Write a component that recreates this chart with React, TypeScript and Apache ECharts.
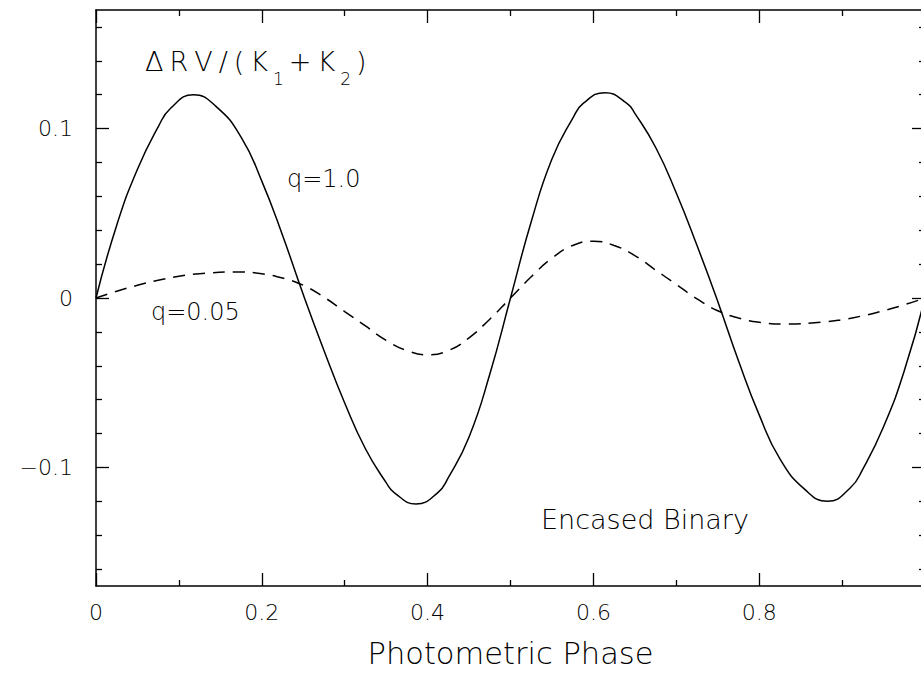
import React, { useEffect, useRef } from "react";
import * as echarts from "echarts";

// q = 1.0 (solid): photometric phase and ΔRV/(K1+K2)
const phaseQ10 = [
  0, 0.025, 0.05, 0.075, 0.09, 0.1175, 0.145, 0.175, 0.2, 0.225,
  0.25, 0.275, 0.3, 0.325, 0.35, 0.36, 0.386, 0.412, 0.425, 0.45,
  0.475, 0.5, 0.525, 0.55, 0.575, 0.588, 0.614, 0.64, 0.65, 0.675,
  0.7, 0.725, 0.75, 0.775, 0.8, 0.825, 0.855, 0.8825, 0.91, 0.925,
  0.95, 0.975, 1.0,
];
const rvQ10 = [
  0, 0.043, 0.076, 0.101, 0.112, 0.12, 0.113, 0.095, 0.069, 0.037,
  0.002, -0.031, -0.062, -0.089, -0.109, -0.115, -0.1216, -0.115, -0.106, -0.082,
  -0.045, 0, 0.045, 0.082, 0.106, 0.115, 0.1212, 0.115, 0.109, 0.089,
  0.062, 0.031, -0.002, -0.037, -0.069, -0.095, -0.113, -0.12, -0.112, -0.101,
  -0.076, -0.043, 0,
];

// q = 0.05 (dashed)
const phaseQ005 = [
  0, 0.025, 0.05, 0.075, 0.1, 0.125, 0.17, 0.2, 0.225, 0.25,
  0.275, 0.3, 0.325, 0.35, 0.375, 0.4, 0.425, 0.45, 0.475, 0.5,
  0.525, 0.55, 0.575, 0.6, 0.625, 0.65, 0.675, 0.7, 0.725, 0.75,
  0.775, 0.8, 0.83, 0.875, 0.9, 0.925, 0.95, 0.975, 1.0,
];
const rvQ005 = [
  0, 0.004, 0.0075, 0.0105, 0.0128, 0.0143, 0.0154, 0.0143, 0.0118, 0.0075,
  0.0005, -0.008, -0.0165, -0.025, -0.031, -0.0335, -0.031, -0.0235, -0.0125, 0,
  0.0125, 0.0235, 0.031, 0.0335, 0.031, 0.025, 0.0165, 0.008, -0.0005, -0.0075,
  -0.0118, -0.0143, -0.0154, -0.0143, -0.0128, -0.0105, -0.0075, -0.004, 0,
];

const yMajorTicks = [-0.1, 0, 0.1];
const yMinorTicks = [-0.16, -0.14, -0.12, -0.08, -0.06, -0.04, -0.02, 0.02, 0.04, 0.06, 0.08, 0.12, 0.14, 0.16];

const FONT = "DejaVu Sans";
const WEIGHT = 200;

export default function App() {
  const ref = useRef<HTMLDivElement>(null);

  useEffect(() => {
    if (!ref.current) return;
    const chart = echarts.init(ref.current, undefined, { renderer: "svg" });

    const axisLine = { show: true, onZero: false, lineStyle: { color: "#000", width: 1.5 } };
    const majorTick = { show: true, inside: true, length: 13, lineStyle: { color: "#000", width: 1.3 } };
    const minorTick = { show: true, splitNumber: 2, length: 6, lineStyle: { color: "#000", width: 1.3 } };
    const minorYTick = { show: true, inside: true, length: 6, customValues: yMinorTicks, lineStyle: { color: "#000", width: 1.3 } };

    const yBase = (position: string) => ({
      type: "value",
      position,
      min: -0.17,
      max: 0.17,
      splitLine: { show: false },
    });

    const m = { fontFamily: FONT, fontWeight: WEIGHT, fontSize: 27, lineHeight: 52, fill: "#000", padding: [0, 3] };
    const s = { fontFamily: FONT, fontWeight: WEIGHT, fontSize: 17, lineHeight: 18, verticalAlign: "bottom", fill: "#000", padding: [0, 2] };

    const option: any = {
      animation: false,
      backgroundColor: "#fff",
      grid: { left: 96, top: 10, width: 829, height: 576, containLabel: false },
      xAxis: [
        {
          type: "value",
          position: "bottom",
          min: 0,
          max: 1,
          interval: 0.2,
          axisLine,
          axisTick: majorTick,
          minorTick,
          splitLine: { show: false },
          minorSplitLine: { show: false },
          axisLabel: {
            color: "#000",
            fontFamily: FONT,
            fontWeight: WEIGHT,
            fontSize: 22,
            margin: 15,
            formatter: (v: number) => (v >= 0.99 ? "" : String(Math.round(v * 10) / 10)),
          },
          name: "Photometric Phase",
          nameLocation: "middle",
          nameGap: 52,
          nameTextStyle: { color: "#000", fontFamily: FONT, fontWeight: WEIGHT, fontSize: 30.5 },
        },
        {
          type: "value",
          position: "top",
          min: 0,
          max: 1,
          interval: 0.2,
          axisLine,
          axisTick: majorTick,
          minorTick,
          splitLine: { show: false },
          axisLabel: { show: false },
        },
      ],
      yAxis: [
        {
          ...yBase("left"),
          axisLine,
          axisTick: { ...majorTick, customValues: yMajorTicks },
          axisLabel: {
            customValues: yMajorTicks,
            color: "#000",
            fontFamily: FONT,
            fontWeight: WEIGHT,
            fontSize: 22,
            margin: 23,
            formatter: (v: number) => {
              const r = Math.round(v * 10) / 10;
              return r === 0 ? "0" : String(r).replace("-", "\u2212");
            },
          },
        },
        {
          ...yBase("left"),
          axisLine: { show: false, onZero: false },
          axisTick: minorYTick,
          axisLabel: { show: false },
        },
        {
          ...yBase("right"),
          axisLine,
          axisTick: { ...majorTick, customValues: yMajorTicks },
          axisLabel: { show: false },
        },
        {
          ...yBase("right"),
          axisLine: { show: false, onZero: false },
          axisTick: minorYTick,
          axisLabel: { show: false },
        },
      ],
      series: [
        {
          name: "q=1.0",
          type: "line",
          xAxisIndex: 0,
          yAxisIndex: 0,
          data: phaseQ10.map((p, i) => [p, rvQ10[i]]),
          smooth: 0.5,
          showSymbol: false,
          lineStyle: { color: "#000", width: 1.5, type: "solid" },
          silent: true,
        },
        {
          name: "q=0.05",
          type: "line",
          xAxisIndex: 0,
          yAxisIndex: 0,
          data: phaseQ005.map((p, i) => [p, rvQ005[i]]),
          smooth: 0.5,
          showSymbol: false,
          lineStyle: { color: "#000", width: 1.5, type: [12, 8] },
          silent: true,
        },
      ],
      graphic: [
        {
          type: "text",
          left: 142,
          top: 48,
          style: {
            text: "{m|\u0394}{m|R}{m|V}{m|/}{m|(}{m|K}{s|1}{m|+}{m|K}{s|2}{m|)}",
            fill: "#000",
            rich: { m, s },
          },
        },
        {
          type: "text",
          x: 287,
          y: 178.5,
          style: { text: "q=1.0", fontFamily: FONT, fontWeight: WEIGHT, fontSize: 24, fill: "#000", verticalAlign: "middle", align: "left" },
        },
        {
          type: "text",
          x: 151,
          y: 311.5,
          style: { text: "q=0.05", fontFamily: FONT, fontWeight: WEIGHT, fontSize: 24, fill: "#000", verticalAlign: "middle", align: "left" },
        },
        {
          type: "text",
          x: 541,
          y: 519,
          style: { text: "Encased Binary", fontFamily: FONT, fontWeight: WEIGHT, fontSize: 27, fill: "#000", verticalAlign: "middle", align: "left" },
        },
      ],
    };

    chart.setOption(option);
    return () => chart.dispose();
  }, []);

  return (
    <div
      ref={ref}
      style={{ position: "fixed", left: 0, top: 0, width: 940, height: 676, background: "#fff" }}
    />
  );
}
